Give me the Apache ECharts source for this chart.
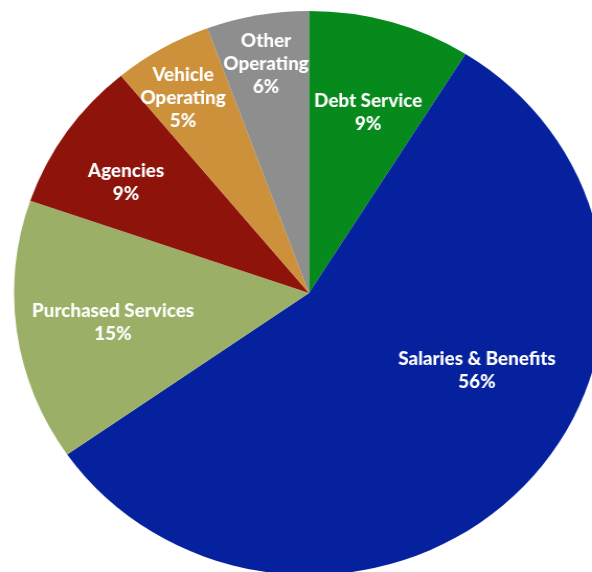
<!DOCTYPE html>
<html>
<head>
<meta charset="utf-8">
<script src="https://cdn.jsdelivr.net/npm/echarts@6/dist/echarts.min.js"></script>
<style>
  html, body { margin: 0; padding: 0; background: #ffffff; overflow: hidden; }
  #chart { width: 566px; height: 572px; transform: scaleX(1.046); transform-origin: 0 0; }
</style>
</head>
<body>
<div id="chart"></div>
<script>
// Data
const categories = ['Debt Service', 'Salaries & Benefits', 'Purchased Services', 'Agencies', 'Vehicle Operating', 'Other Operating'];
const labelNames = ['Debt Service', 'Salaries & Benefits', 'Purchased Services', 'Agencies', 'Vehicle\nOperating', 'Other\nOperating'];
const values = [8.9, 56.4, 15.0, 8.7, 5.4, 5.6];

// Styles
const colors = ['#058A1B', '#06219E', '#9BB066', '#8E130B', '#CC913A', '#8E8E8E'];
const labelPos = [[352, 112.5], [456, 370.5], [108, 322.5], [120.5, 182.5], [175, 98.5], [254.3, 64.5]];

const chart = echarts.init(document.getElementById('chart'), null, { renderer: 'canvas' });
chart.setOption({
  animation: false,
  series: [{
    type: 'pie',
    center: [295.4, 293],
    radius: [0, 282],
    startAngle: 90,
    clockwise: true,
    percentPrecision: 0,
    avoidLabelOverlap: false,
    itemStyle: { borderWidth: 0 },
    label: {
      show: true,
      position: 'inside',
      formatter: p => labelNames[p.dataIndex] + '\n' + p.percent + '%',
      color: '#ffffff',
      fontFamily: 'Lato',
      fontWeight: 900,
      fontSize: 18,
      lineHeight: 23,
      align: 'center'
    },
    labelLine: { show: false },
    labelLayout: p => ({ x: labelPos[p.dataIndex][0], y: labelPos[p.dataIndex][1], align: 'center', verticalAlign: 'middle' }),
    emphasis: { disabled: true },
    data: categories.map((c, i) => ({ name: c, value: values[i], itemStyle: { color: colors[i] } }))
  }]
});
</script>
</body>
</html>
